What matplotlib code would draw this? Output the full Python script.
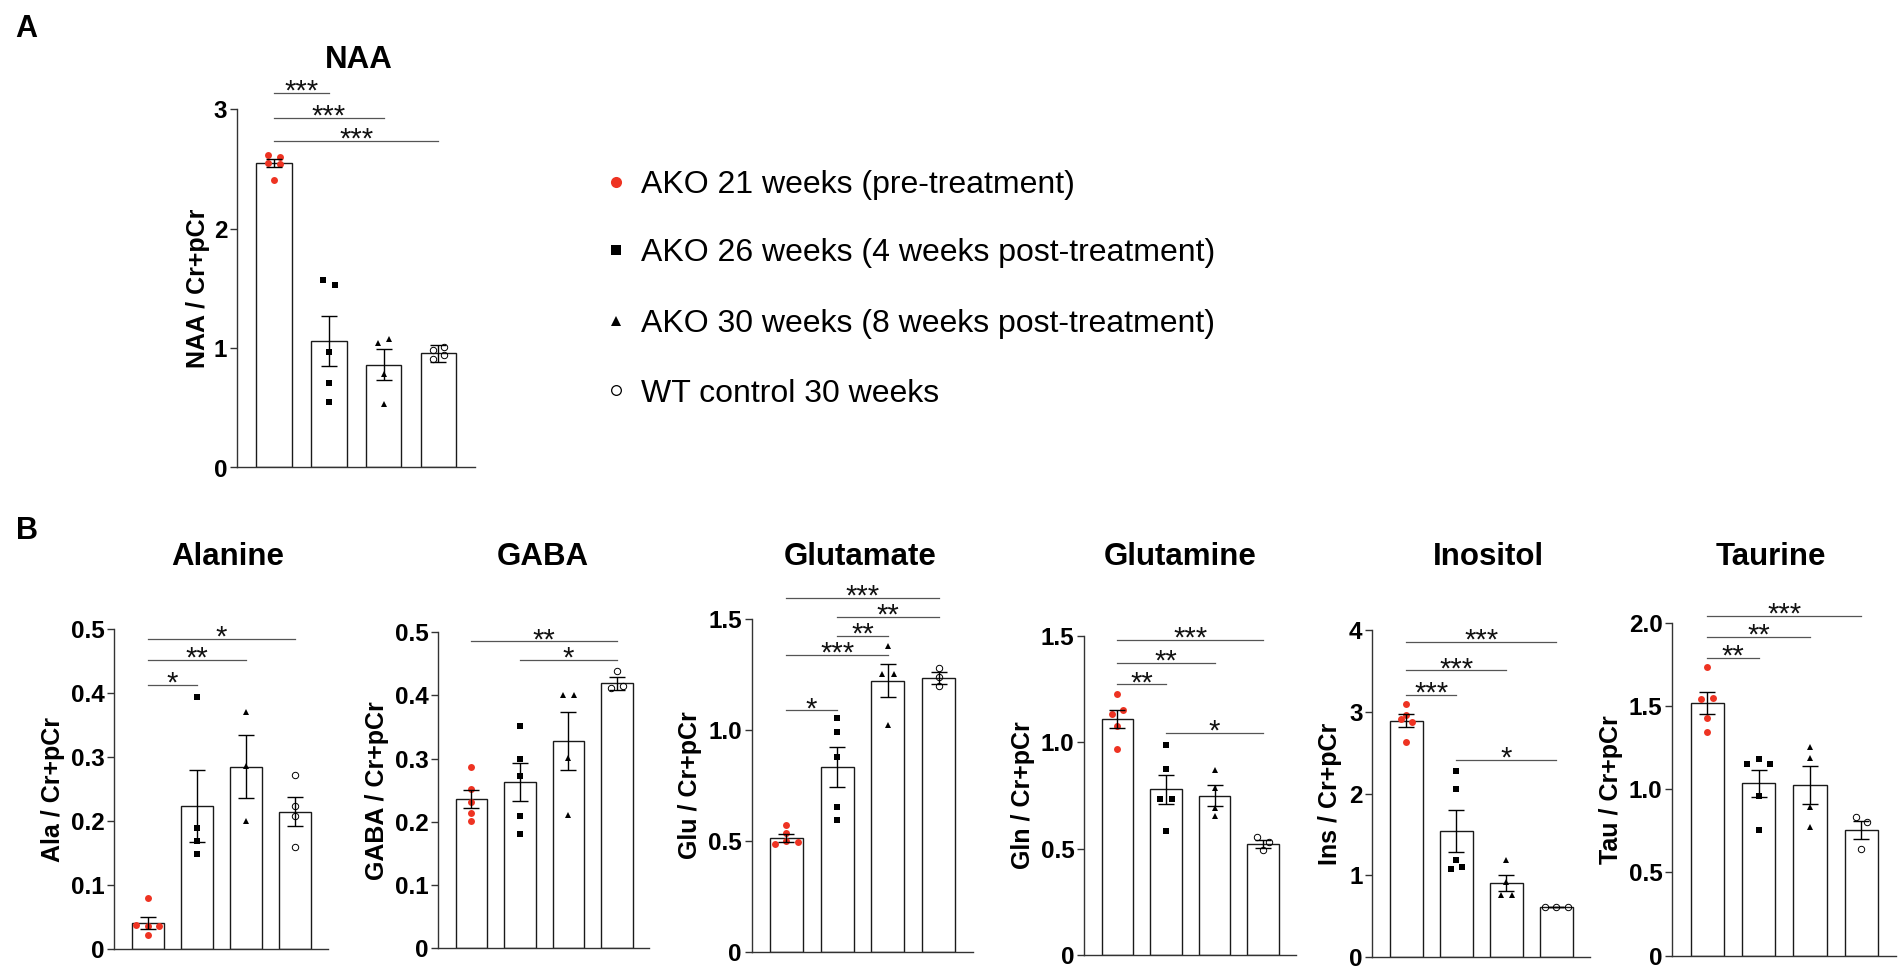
import matplotlib
matplotlib.use('Agg')
import matplotlib.pyplot as plt
import numpy as np

plt.rcParams['font.family'] = ['Liberation Sans', 'DejaVu Sans']

W, H, DPI = 1904, 971, 100

# ---------------- data ----------------
groups = ['AKO 21 weeks (pre-treatment)',
          'AKO 26 weeks (4 weeks post-treatment)',
          'AKO 30 weeks (8 weeks post-treatment)',
          'WT control 30 weeks']

naa_means = [2.55, 1.06, 0.86, 0.955]
naa_sems = [0.035, 0.21, 0.13, 0.07]
naa_points = [[2.62, 2.60, 2.55, 2.54, 2.41], [1.57, 1.53, 0.97, 0.71, 0.55],
              [1.04, 1.08, 0.78, 0.53], [0.98, 1.01, 0.905, 0.94]]
naa_sig = [(0, 1, '***', 3.14), (0, 2, '***', 2.93), (0, 3, '***', 2.735)]

ala_means = [0.041, 0.224, 0.285, 0.215]
ala_sems = [0.010, 0.0565, 0.0495, 0.023]
ala_points = [[0.080, 0.038, 0.037, 0.037, 0.023], [0.394, 0.190, 0.169, 0.148],
              [0.371, 0.286, 0.200], [0.272, 0.224, 0.208, 0.159]]
ala_sig = [(0, 1, '*', 0.4126), (0, 2, '**', 0.451), (0, 3, '*', 0.485)]

gaba_means = [0.236, 0.263, 0.328, 0.419]
gaba_sems = [0.015, 0.0305, 0.0455, 0.010]
gaba_points = [[0.286, 0.252, 0.232, 0.214, 0.202], [0.352, 0.299, 0.272, 0.209, 0.181],
               [0.401, 0.401, 0.301, 0.211], [0.438, 0.412, 0.414]]
gaba_sig = [(0, 3, '**', 0.485), (1, 3, '*', 0.456)]

glu_means = [0.514, 0.835, 1.224, 1.237]
glu_sems = [0.019, 0.0905, 0.0745, 0.0265]
glu_points = [[0.570, 0.535, 0.487, 0.502, 0.495], [1.054, 0.994, 0.881, 0.654, 0.594],
              [1.379, 1.254, 1.254, 1.022], [1.281, 1.241, 1.198]]
glu_sig = [(0, 1, '*', 1.089), (0, 2, '***', 1.338), (1, 2, '**', 1.425),
           (1, 3, '**', 1.511), (0, 3, '***', 1.597)]

gln_means = [1.109, 0.779, 0.748, 0.520]
gln_sems = [0.043, 0.0685, 0.05, 0.019]
gln_points = [[1.227, 1.135, 1.155, 1.079, 0.971], [0.986, 0.877, 0.733, 0.733, 0.583],
              [0.868, 0.785, 0.690, 0.653], [0.552, 0.530, 0.494]]
gln_sig = [(0, 1, '**', 1.273), (0, 2, '**', 1.374), (0, 3, '***', 1.484), (1, 3, '*', 1.044)]

ins_means = [2.89, 1.544, 0.903, 0.61]
ins_sems = [0.0815, 0.258, 0.0965, 0.004]
ins_points = [[3.097, 2.908, 2.963, 2.877, 2.632], [2.280, 2.052, 1.191, 1.075, 1.105],
              [1.183, 0.912, 0.761, 0.761], [0.606, 0.615, 0.615]]
ins_sig = [(0, 1, '***', 3.204), (0, 2, '***', 3.505), (0, 3, '***', 3.854), (1, 3, '*', 2.409)]

tau_means = [1.516, 1.035, 1.027, 0.755]
tau_sems = [0.0665, 0.08, 0.115, 0.056]
tau_points = [[1.736, 1.542, 1.546, 1.429, 1.345], [1.149, 1.179, 1.149, 0.959, 0.755],
              [1.255, 1.189, 0.895, 0.775], [0.831, 0.805, 0.643]]
tau_sig = [(0, 1, '**', 1.790), (0, 2, '**', 1.916), (0, 3, '***', 2.042)]

# ---------------- styles ----------------
RED = '#ee3322'
styles = [dict(marker='o', color=RED, mfc=RED, mec=RED, mew=0, ms=5.0),
          dict(marker='s', color='black', mfc='black', mec='black', mew=0, ms=4.2),
          dict(marker='^', color='black', mfc='black', mec='black', mew=0, ms=4.8),
          dict(marker='o', color='black', mfc='none', mec='black', mew=0.7, ms=4.6)]
leg_styles = [dict(marker='o', color=RED, mfc=RED, mec=RED, mew=0, ms=8.0),
              dict(marker='s', color='black', mfc='black', mec='black', mew=0, ms=6.8),
              dict(marker='^', color='black', mfc='black', mec='black', mew=0, ms=7.5),
              dict(marker='o', color='black', mfc='none', mec='black', mew=0.9, ms=7.0)]

fig = plt.figure(figsize=(W / DPI, H / DPI), dpi=DPI)
XLIM = (-0.68, 3.67)
AX_COLOR = '#333333'


def swarm_offsets(vals, diam, step):
    vals = np.asarray(vals, dtype=float)
    order = np.argsort(vals, kind='stable')
    rows, cur = [], [order[0]]
    for idx in order[1:]:
        if vals[idx] - vals[cur[0]] < diam:
            cur.append(idx)
        else:
            rows.append(cur)
            cur = [idx]
    rows.append(cur)
    off = np.zeros(len(vals))
    for r in rows:
        r = sorted(r)
        n = len(r)
        for k, idx in enumerate(r):
            off[idx] = (k - (n - 1) / 2) * step
    return off


def panel(px, ylabel, yticks, yticklabels, means, sems, points, sigs, labelpad):
    left, right, bottom, top = px
    ax = fig.add_axes([left / W, 1 - bottom / H, (right - left) / W, (bottom - top) / H])
    x = np.arange(len(means))
    ax.bar(x, means, width=0.65, color='white', edgecolor='#1a1a1a', linewidth=1.0, zorder=1)
    unit_x = (right - left) / (XLIM[1] - XLIM[0])
    unit_y = (bottom - top) / yticks[-1]
    for i, pts in enumerate(points):
        off = swarm_offsets(pts, 6.5 / unit_y, 11.5 / unit_x)
        ax.plot(x[i] + off, pts, linestyle='none', zorder=3, clip_on=False, **styles[i])
    ax.errorbar(x, means, yerr=sems, fmt='none', ecolor='black', elinewidth=1.0,
                capsize=6, capthick=1.0, zorder=5)
    ax.set_xlim(*XLIM)
    ax.set_ylim(0, yticks[-1])
    ax.set_xticks([])
    ax.set_yticks(yticks)
    ax.set_yticklabels(yticklabels, fontsize=17.5, fontweight='bold')
    ax.tick_params(axis='y', length=5, width=1.0, color=AX_COLOR, pad=2)
    for s in ['top', 'right']:
        ax.spines[s].set_visible(False)
    for s in ['left', 'bottom']:
        ax.spines[s].set_color(AX_COLOR)
        ax.spines[s].set_linewidth(1.0)
    ax.set_ylabel(ylabel, fontsize=18, fontweight='bold', labelpad=labelpad)
    for (i, j, txt, yv) in sigs:
        ax.plot([i, j], [yv, yv], color='#555555', lw=0.9, clip_on=False, zorder=6)
        ax.annotate(txt, xy=((i + j) / 2, yv), xytext=(0, -4.8), textcoords='offset points',
                    ha='center', va='baseline', fontsize=21, color='#111111',
                    annotation_clip=False)
    ax.patch.set_alpha(0)
    return ax


panel((237, 475, 467.5, 109.3), 'NAA / Cr+pCr', [0, 1, 2, 3], ['0', '1', '2', '3'],
      naa_means, naa_sems, naa_points, naa_sig, 3)
panel((114.3, 328.3, 949.3, 629), 'Ala / Cr+pCr', [0, 0.1, 0.2, 0.3, 0.4, 0.5],
      ['0', '0.1', '0.2', '0.3', '0.4', '0.5'], ala_means, ala_sems, ala_points, ala_sig, 4.5)
panel((438.3, 649.3, 948.3, 632), 'GABA / Cr+pCr', [0, 0.1, 0.2, 0.3, 0.4, 0.5],
      ['0', '0.1', '0.2', '0.3', '0.4', '0.5'], gaba_means, gaba_sems, gaba_points, gaba_sig, 4.5)
panel((751.7, 972.7, 951.8, 619.4), 'Glu / Cr+pCr', [0, 0.5, 1.0, 1.5],
      ['0', '0.5', '1.0', '1.5'], glu_means, glu_sems, glu_points, glu_sig, 4.5)
panel((1084.3, 1295.7, 954.6, 636.3), 'Gln / Cr+pCr', [0, 0.5, 1.0, 1.5],
      ['0', '0.5', '1.0', '1.5'], gln_means, gln_sems, gln_points, gln_sig, 4.5)
panel((1372.3, 1590, 957, 630), 'Ins / Cr+pCr', [0, 1, 2, 3, 4],
      ['0', '1', '2', '3', '4'], ins_means, ins_sems, ins_points, ins_sig, 5)
panel((1672.3, 1895.7, 955.7, 622.7), 'Tau / Cr+pCr', [0, 0.5, 1.0, 1.5, 2.0],
      ['0', '0.5', '1.0', '1.5', '2.0'], tau_means, tau_sems, tau_points, tau_sig, 4.5)

# ---------------- overlay for titles, letters, legend ----------------
ov = fig.add_axes([0, 0, 1, 1], zorder=-1)
ov.set_xlim(0, W)
ov.set_ylim(H, 0)
ov.axis('off')

ov.text(15, 36.7, 'A', fontsize=22, fontweight='bold', ha='left', va='baseline')
ov.text(16, 539.3, 'B', fontsize=22, fontweight='bold', ha='left', va='baseline')

titles = ['NAA', 'Alanine', 'GABA', 'Glutamate', 'Glutamine', 'Inositol', 'Taurine']
title_x = [359.3, 227.7, 543.3, 860.3, 1180.3, 1488, 1770.7]
title_base = [68.3, 565, 565, 565, 565, 565, 565]
for t, tx, tb in zip(titles, title_x, title_base):
    ov.text(tx, tb, t, fontsize=22.5, fontweight='bold', ha='center', va='baseline')

leg_rows = [182.5, 250.5, 321, 390.5]
for g, st, ry in zip(groups, leg_styles, leg_rows):
    ov.plot([616], [ry], linestyle='none', **st)
    ov.text(641, ry + 11, g, fontsize=23, ha='left', va='baseline')

fig.savefig('out.png', dpi=DPI)
